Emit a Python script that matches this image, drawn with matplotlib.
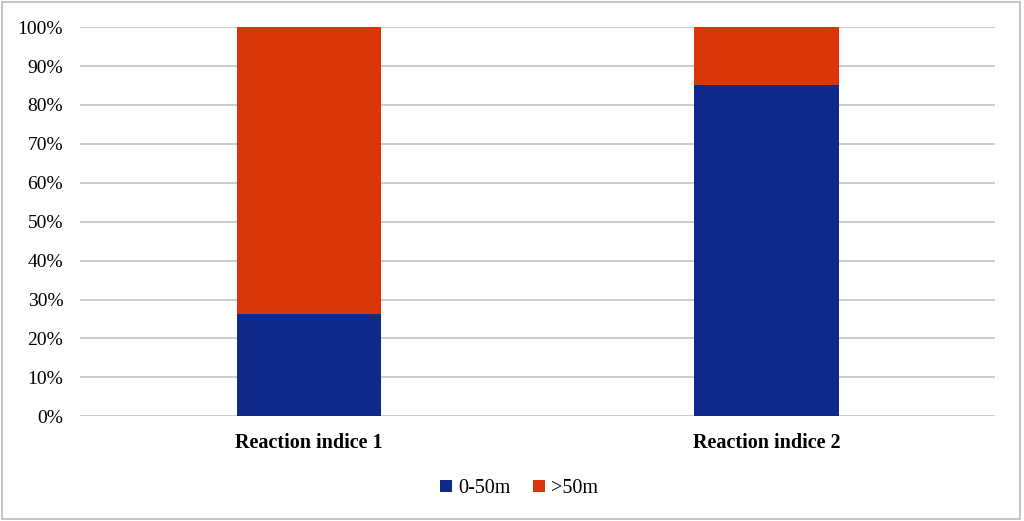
import matplotlib.pyplot as plt
from matplotlib.patches import Rectangle
from matplotlib.ticker import PercentFormatter

plt.rcParams['font.family'] = ['Liberation Serif', 'DejaVu Serif']

categories = ['Reaction indice 1', 'Reaction indice 2']
near = [26.3, 85.0]   # 0-50m
far = [73.7, 15.0]    # >50m
yticks = list(range(0, 101, 10))

blue = '#0D2A8A'
orange = '#DB3609'

fig = plt.figure(figsize=(10.24, 5.21), dpi=100)
ax = fig.add_axes([0.078, 0.201, 0.894, 0.747])

x = range(len(categories))
ax.bar(x, near, width=0.315, color=blue, label='0-50m', zorder=3)
ax.bar(x, far, width=0.315, bottom=near, color=orange, label='>50m', zorder=3)

ax.set_xlim(-0.5, 1.5)
ax.set_ylim(0, 100)
ax.set_yticks(yticks)
ax.yaxis.set_major_formatter(PercentFormatter(decimals=0))
ax.set_xticks(list(x))
ax.set_xticklabels(categories, fontweight='bold', fontsize=14.5)
ax.tick_params(axis='y', labelsize=14, length=0, pad=12)
ax.tick_params(axis='x', length=0, pad=12)
ax.grid(axis='y', color='#C8C8C8', linewidth=1.3, zorder=0)
for s in ax.spines.values():
    s.set_visible(False)

ax.legend(loc='upper center', bbox_to_anchor=(0.48, -0.115), ncol=2, frameon=False,
          fontsize=14.5, handlelength=0.6, handleheight=0.6, handletextpad=0.3,
          columnspacing=1.1)

# outer frame
fig.patches.append(Rectangle((0.002, 0.004), 0.994, 0.992, transform=fig.transFigure,
                             fill=False, edgecolor='#BFBFBF', linewidth=1.3))

fig.savefig('out.png', dpi=100)
